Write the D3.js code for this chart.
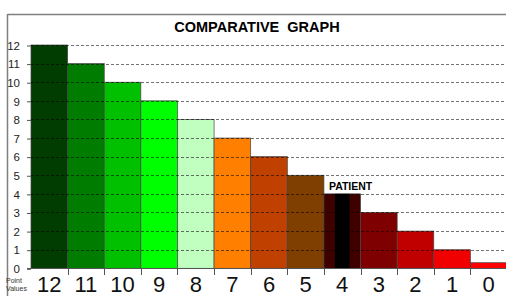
<!DOCTYPE html>
<html><head><meta charset="utf-8">
<script src="https://cdn.jsdelivr.net/npm/d3@7"></script>
<style>body{margin:0;background:#fff}svg{display:block}</style>
</head><body>
<svg id="c" width="506" height="296"></svg>
<script>
const categories = ["12","11","10","9","8","7","6","5","4","3","2","1","0"];
const values = [12,11,10,9,8,7,6,5,4,3,2,1,0.3];
const colors = ["#013d01","#007d00","#00c000","#00ff00","#c0ffc0","#ff8000","#c04000","#7f3f00","#3f0000","#7f0000","#c00000","#f00000","#ff0000"];
const yTicks = [0,1,2,3,4,5,6,7,8,9,10,11,12];
const patientCategory = "4";
const title = "COMPARATIVE  GRAPH";

const svg = d3.select("#c");
const x = d3.scaleBand().domain(categories).range([31, 507]).padding(0);
const y = d3.scaleLinear().domain([0,12]).range([268.3, 45]);

// frame
svg.append("line").attr("x1",7.5).attr("x2",506).attr("y1",14.5).attr("y2",14.5).attr("stroke","#808080").attr("stroke-width",1.5);
svg.append("line").attr("x1",7.5).attr("x2",7.5).attr("y1",14).attr("y2",296).attr("stroke","#808080").attr("stroke-width",1.5);

svg.append("text").attr("x",257).attr("y",32).attr("text-anchor","middle")
  .attr("font-family","Liberation Sans, Arial, sans-serif").attr("font-weight","bold").attr("font-size",14.5)
  .attr("fill","#000").style("white-space","pre").text(title);

// bars
svg.append("g").selectAll("rect").data(categories).join("rect")
  .attr("x", d => x(d)).attr("width", x.bandwidth())
  .attr("y", (d,i) => y(values[i])).attr("height", (d,i) => y(0) - y(values[i]))
  .attr("fill", (d,i) => colors[i]).attr("stroke","#444").attr("stroke-width",0.7);

// patient stripe
const pi = categories.indexOf(patientCategory);
svg.append("rect").attr("x", x(patientCategory) + x.bandwidth()*0.3).attr("width", x.bandwidth()*0.4)
  .attr("y", y(values[pi])).attr("height", y(0)-y(values[pi])).attr("fill","#000");

// gridlines on top
svg.append("g").selectAll("line").data(yTicks.filter(d=>d>0)).join("line")
  .attr("x1",31).attr("x2",506).attr("y1",d=>Math.round(y(d))+0.5).attr("y2",d=>Math.round(y(d))+0.5)
  .attr("stroke","rgba(0,0,0,0.55)").attr("stroke-width",1).attr("stroke-dasharray","3,2");

// y axis
const yAxis = d3.axisLeft(y).tickValues(yTicks).tickSize(4).tickPadding(7).tickFormat(d3.format("d"));
const ga = svg.append("g").attr("transform","translate(31,0.5)").call(yAxis);
ga.select(".domain").remove();
ga.selectAll("line").attr("stroke","#555");
ga.selectAll("text").attr("font-family","Liberation Sans, Arial, sans-serif").attr("font-size",11.5).attr("fill","#222");

// x axis baseline and ticks at boundaries
svg.append("line").attr("x1",27).attr("x2",506).attr("y1",Math.round(y(0))+0.5).attr("y2",Math.round(y(0))+0.5).attr("stroke","#555");
const bounds = categories.slice(1).map(c => x(c));
svg.append("g").selectAll("line").data(bounds).join("line")
  .attr("x1",d=>Math.round(d)+0.5).attr("x2",d=>Math.round(d)+0.5).attr("y1",y(0)).attr("y2",275).attr("stroke","#555");

const gx = d3.axisBottom(x).tickSize(0).tickPadding(0);
const gxa = svg.append("g").attr("transform","translate(0,271)").call(gx);
gxa.select(".domain").remove();
gxa.selectAll("text").attr("font-family","Liberation Sans, Arial, sans-serif").attr("font-size",22)
  .attr("fill","#111").attr("dy",0).attr("y",21);

svg.append("text").attr("x",6).attr("y",283).attr("font-family","Liberation Sans, Arial, sans-serif").attr("font-size",7).attr("fill","#333").text("Point");
svg.append("text").attr("x",6).attr("y",291).attr("font-family","Liberation Sans, Arial, sans-serif").attr("font-size",7).attr("fill","#333").text("Values");

// patient label
svg.append("text").attr("x", x(patientCategory)+5).attr("y", y(values[pi]) - 4)
  .attr("font-family","Liberation Sans, Arial, sans-serif").attr("font-weight","bold").attr("font-size",10.5).attr("fill","#000").text("PATIENT");
</script>
</body></html>
